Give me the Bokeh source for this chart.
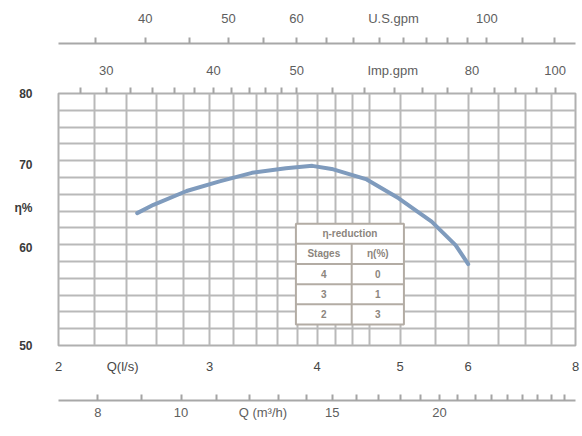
from bokeh.plotting import figure
from bokeh.models import (Range1d, LogScale, LinearScale, LogAxis, FixedTicker, Grid,
                          NumeralTickFormatter)
from bokeh.core.properties import value
from bokeh.embed import file_html
from bokeh.resources import INLINE

# ---------------- data ----------------
Q_LPS = [2.47, 2.58, 2.82, 3.08, 3.36, 3.68, 3.95, 4.16, 4.56, 4.98, 5.44, 5.80, 6.00]
ETA = [64.0, 65.0, 66.7, 67.9, 69.0, 69.6, 69.9, 69.5, 68.2, 65.8, 63.0, 60.3, 58.2]

Q_RANGE = (2.0, 8.0)
ETA_RANGE = (50.0, 80.0)

Q_TICKS = [2, 3, 4, 5, 6, 8]
ETA_TICKS = [50, 60, 70, 80]
M3H_TICKS = [8, 10, 15, 20]
M3H_MINOR = [7, 8, 9, 10, 11, 12, 13, 14, 15, 16, 17, 18, 19, 20, 21, 22, 23, 24, 25, 26, 27, 28]
USGPM_TICKS = [40, 50, 60, 100]
USGPM_MINOR = [35, 40, 45, 50, 55, 60, 65, 70, 75, 80, 85, 90, 95, 100, 110, 120]
IMPGPM_TICKS = [30, 40, 50, 80, 100]
IMPGPM_MINOR = [28, 30, 32, 34, 36, 38, 40, 42, 44, 46, 48, 50, 55, 60, 65, 70, 75, 80, 85, 90, 95, 100]

V_GRID = [2.2, 2.4, 2.6, 2.8, 3.0, 3.2, 3.4, 3.6, 3.8, 4.0, 4.2, 4.4, 4.6, 5.0, 5.5, 6.0, 6.5, 7.0, 7.5]
H_GRID_ROWS = 15

LPS_TO_M3H = 3.6
LPS_TO_USGPM = 15.85
LPS_TO_IMPGPM = 13.2

# axis titles, written inline on their axes (title text, position in l/s or η)
TITLE_Q_LPS = ("Q(l/s)", 2.375)
TITLE_M3H = ("Q (m³/h)", 3.46)
TITLE_USGPM = ("U.S.gpm", 4.91)
TITLE_IMPGPM = ("Imp.gpm", 4.90)
TITLE_ETA = ("η%", 64.6)

TABLE_TITLE = "η-reduction"
TABLE_HEAD = ["Stages", "η(%)"]
STAGES = ["4", "3", "2"]
REDUCTION = ["0", "1", "3"]

FONT = "Liberation Sans"

# ---------------- figure ----------------
p = figure(width=582, height=436, x_axis_type="log", y_axis_type="log",
           x_range=Range1d(*Q_RANGE), y_range=Range1d(*ETA_RANGE),
           output_backend="svg", toolbar_location=None,
           min_border_left=58, min_border_right=7, min_border_top=93, min_border_bottom=91)
p.background_fill_color = "white"
p.border_fill_color = "white"
p.outline_line_color = "#b0b0b0"
p.outline_line_width = 2
p.xgrid.grid_line_color = None
p.ygrid.grid_line_color = None

p.extra_x_ranges = {
    "m3h": Range1d(Q_RANGE[0] * LPS_TO_M3H, Q_RANGE[1] * LPS_TO_M3H),
    "usgpm": Range1d(Q_RANGE[0] * LPS_TO_USGPM, Q_RANGE[1] * LPS_TO_USGPM),
    "imp": Range1d(Q_RANGE[0] * LPS_TO_IMPGPM, Q_RANGE[1] * LPS_TO_IMPGPM),
}
p.extra_x_scales = {"m3h": LogScale(), "usgpm": LogScale(), "imp": LogScale()}
p.extra_y_ranges = {"rows": Range1d(H_GRID_ROWS, 0)}
p.extra_y_scales = {"rows": LinearScale()}

# grids
p.add_layout(Grid(dimension=0, ticker=FixedTicker(ticks=V_GRID),
                  grid_line_color="#b9b9b9", grid_line_width=2))
p.add_layout(Grid(dimension=1, y_range_name="rows",
                  ticker=FixedTicker(ticks=list(range(1, H_GRID_ROWS))),
                  grid_line_color="#b9b9b9", grid_line_width=2))


def titled_ticker(ticks, minor, title, factor):
    pos = title[1] * factor
    return FixedTicker(ticks=list(ticks) + [pos], minor_ticks=minor), {pos: title[0]}


# y axis
ya = p.yaxis[0]
tk, ov = titled_ticker(ETA_TICKS, [], TITLE_ETA, 1.0)
ya.ticker = tk
ya.formatter = NumeralTickFormatter(format="0")
ya.major_label_overrides = ov
ya.axis_line_color = None
ya.major_tick_line_color = None
ya.minor_tick_line_color = None
ya.major_label_standoff = 20
ya.major_label_text_font = FONT
ya.major_label_text_font_size = "12px"
ya.major_label_text_font_style = "bold"
ya.major_label_text_color = "#3a3a3a"

# bottom Q(l/s) axis
xa = p.xaxis[0]
tk, ov = titled_ticker(Q_TICKS, [], TITLE_Q_LPS, 1.0)
xa.ticker = tk
xa.formatter = NumeralTickFormatter(format="0")
xa.major_label_overrides = ov
xa.axis_line_color = None
xa.major_tick_line_color = None
xa.minor_tick_line_color = None
xa.major_label_standoff = 7
xa.major_label_text_font = FONT
xa.major_label_text_font_size = "13px"
xa.major_label_text_color = "#474747"
xa.axis_label = " "
xa.axis_label_text_font_size = "16px"
xa.axis_label_standoff = 4


def style_secondary(ax, standoff):
    ax.formatter = NumeralTickFormatter(format="0")
    ax.axis_line_color = "#a8a8a8"
    ax.axis_line_width = 2
    ax.major_tick_line_color = None
    ax.minor_tick_line_color = "#a4a4a4"
    ax.minor_tick_line_width = 2
    ax.major_label_standoff = standoff
    ax.major_label_text_font = FONT
    ax.major_label_text_font_size = "13px"
    ax.major_label_text_color = "#5e5e5e"


# bottom m3/h axis
tk, ov = titled_ticker(M3H_TICKS, M3H_MINOR, TITLE_M3H, LPS_TO_M3H)
m3 = LogAxis(x_range_name="m3h", ticker=tk, major_label_overrides=ov)
style_secondary(m3, 4)
m3.major_tick_in = 7
m3.major_tick_out = 0
m3.minor_tick_in = 6
m3.minor_tick_out = 0
p.add_layout(m3, "below")

# top Imp.gpm axis
tk, ov = titled_ticker(IMPGPM_TICKS, IMPGPM_MINOR, TITLE_IMPGPM, LPS_TO_IMPGPM)
imp = LogAxis(x_range_name="imp", ticker=tk, major_label_overrides=ov)
style_secondary(imp, 9)
imp.axis_line_color = None
imp.major_tick_in = 0
imp.major_tick_out = 7
imp.minor_tick_in = 0
imp.minor_tick_out = 6
imp.axis_label = " "
imp.axis_label_text_font_size = "10px"
imp.axis_label_standoff = 2
p.add_layout(imp, "above")

# top US gpm axis
tk, ov = titled_ticker(USGPM_TICKS, USGPM_MINOR, TITLE_USGPM, LPS_TO_USGPM)
us = LogAxis(x_range_name="usgpm", ticker=tk, major_label_overrides=ov)
style_secondary(us, 10)
us.major_tick_in = 0
us.major_tick_out = 8
us.minor_tick_in = 0
us.minor_tick_out = 6
p.add_layout(us, "above")

# efficiency curve
p.line(Q_LPS, ETA, line_color="#7f9bbd", line_width=4, line_cap="round", line_join="round")

# reduction table (placed in grid-row units)
T_COLS = [3.78, 4.39, 5.05]
T_TOP = 7.75
T_ROW = 1.2
n_rows = 2 + len(STAGES)
t_bottom = T_TOP + T_ROW * n_rows
p.quad(left=[T_COLS[0]], right=[T_COLS[2]], top=[T_TOP], bottom=[t_bottom],
       y_range_name="rows", fill_color="white", line_color="#b3aca4", line_width=2)
row_lines = [T_TOP + T_ROW * k for k in range(1, n_rows)]
p.segment(x0=[T_COLS[0]] * len(row_lines), x1=[T_COLS[2]] * len(row_lines),
          y0=row_lines, y1=row_lines, y_range_name="rows",
          line_color="#b3aca4", line_width=2)
p.segment(x0=[T_COLS[1]], x1=[T_COLS[1]], y0=[T_TOP + T_ROW], y1=[t_bottom],
          y_range_name="rows", line_color="#b3aca4", line_width=2)

c1 = (T_COLS[0] * T_COLS[1]) ** 0.5
c2 = (T_COLS[1] * T_COLS[2]) ** 0.5
cm = (T_COLS[0] * T_COLS[2]) ** 0.5
xs = [cm, c1, c2]
ys = [T_TOP + T_ROW * 0.5, T_TOP + T_ROW * 1.5, T_TOP + T_ROW * 1.5]
txt = [TABLE_TITLE] + TABLE_HEAD
for i, (s, r) in enumerate(zip(STAGES, REDUCTION)):
    yy = T_TOP + T_ROW * (2.5 + i)
    xs += [c1, c2]
    ys += [yy, yy]
    txt += [s, r]
p.text(x=xs, y=ys, text=txt, y_range_name="rows", text_font=value(FONT),
       text_font_size="10px", text_font_style="bold", text_color="#8c857d",
       text_align="center", text_baseline="middle")

open("out.html", "w").write(file_html(p, INLINE))
